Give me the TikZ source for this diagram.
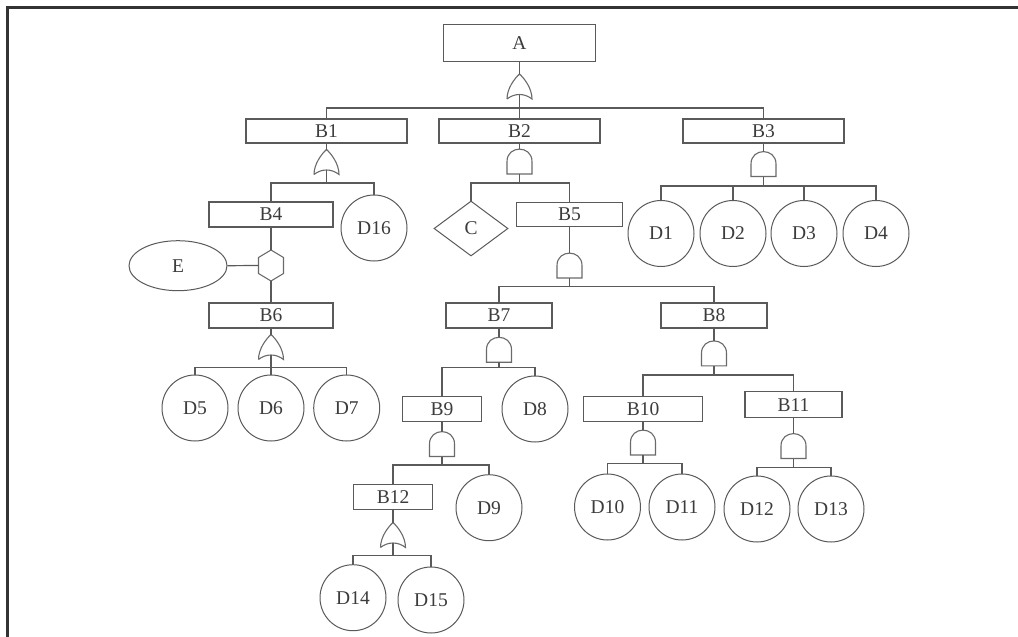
\documentclass[tikz,border=0pt]{standalone}
\usepackage{fontspec}
\setmainfont{Liberation Serif}
\usetikzlibrary{shapes.geometric}
\definecolor{linec}{HTML}{5A5A5A}
\definecolor{gatec}{HTML}{6A6A6A}
\definecolor{textc}{HTML}{3C3C3C}
\definecolor{framec}{HTML}{333333}
\tikzset{
  every node/.style={text=textc,font=\fontsize{19.5}{20}\selectfont},
  conn/.style={draw=linec,line width=1.2pt},
  gateline/.style={draw=gatec,line width=1.1pt},
  evbox/.style={draw=linec,line width=1.2pt,rectangle,inner sep=0pt,minimum height=25pt},
  basic/.style={draw=linec,line width=1.0pt,circle,inner sep=0pt,minimum size=66pt},
  undev/.style={draw=linec,line width=1.0pt,diamond,inner sep=0pt,minimum width=74pt,minimum height=55pt},
  cond/.style={draw=linec,line width=1.0pt,ellipse,inner sep=0pt,minimum width=98pt,minimum height=50pt},
  orgate/.pic={
    \draw[gateline] (-12.5,12.5) .. controls (-12.5,2) and (-5,-8) .. (0,-12.5)
      .. controls (5,-8) and (12.5,2) .. (12.5,12.5)
      .. controls (5,6.5) and (-5,6.5) .. (-12.5,12.5);
    \coordinate (-in) at (0,-12.5);
    \coordinate (-out) at (0,8);
  },
  andgate/.pic={
    \draw[gateline] (-12.5,12.5) -- (-12.5,0) .. controls (-12.5,-16.5) and (12.5,-16.5) .. (12.5,0) -- (12.5,12.5) -- cycle;
    \coordinate (-in) at (0,-12.5);
    \coordinate (-out) at (0,12.5);
  },
  hexgate/.pic={
    \draw[gateline] (0,-15.5) -- (12.5,-8) -- (12.5,8) -- (0,15.5) -- (-12.5,8) -- (-12.5,-8) -- cycle;
    \coordinate (-in) at (0,-15.5);
    \coordinate (-out) at (0,15.5);
    \coordinate (-side) at (-12.5,0);
  }
}
\begin{document}
\begin{tikzpicture}[x=1pt,y=-1pt]
\useasboundingbox (0,0) rectangle (1018,637);
\fill[white] (0,0) rectangle (1018,637);
\draw[framec,line width=3pt] (7.5,637) -- (7.5,7.5) -- (1018,7.5);

% events
\node[evbox,minimum width=152pt,minimum height=37pt] (A) at (519.5,42.7) {A};
\node[evbox,minimum width=161pt,minimum height=24pt] (B1) at (326.5,131) {B1};
\node[evbox,minimum width=161pt,minimum height=24pt] (B2) at (519.5,131) {B2};
\node[evbox,minimum width=161pt,minimum height=24pt] (B3) at (763.5,131) {B3};
\node[evbox,minimum width=124pt] (B4) at (271,214.5) {B4};
\node[basic] (D16) at (374,228) {D16};
\node[undev] (C) at (471,228.5) {C};
\node[evbox,minimum width=106pt,minimum height=24.5pt] (B5) at (569.5,214.5) {B5};
\node[basic] (D1) at (661,233.5) {D1};
\node[basic] (D2) at (733,233.5) {D2};
\node[basic] (D3) at (804,233.5) {D3};
\node[basic] (D4) at (876,233.5) {D4};
\node[cond] (E) at (178,265.7) {E};
\node[evbox,minimum width=124pt] (B6) at (271,315.5) {B6};
\node[basic] (D5) at (195,408) {D5};
\node[basic] (D6) at (271,408) {D6};
\node[basic] (D7) at (346.7,408) {D7};
\node[evbox,minimum width=106pt] (B7) at (499,315.5) {B7};
\node[evbox,minimum width=106pt] (B8) at (714,315.5) {B8};
\node[evbox,minimum width=79pt,minimum height=24.5pt] (B9) at (442,409) {B9};
\node[basic] (D8) at (535,409) {D8};
\node[evbox,minimum width=119.5pt,minimum height=24.5pt] (B10) at (643,409) {B10};
\node[evbox,minimum width=97pt,minimum height=26pt] (B11) at (793.5,404.7) {B11};
\node[evbox,minimum width=79.5pt] (B12) at (393,497) {B12};
\node[basic] (D9) at (489,507.7) {D9};
\node[basic] (D10) at (607.5,507) {D10};
\node[basic] (D11) at (682,507) {D11};
\node[basic] (D12) at (757,509) {D12};
\node[basic] (D13) at (831,509) {D13};
\node[basic] (D14) at (353,597.7) {D14};
\node[basic] (D15) at (431,600) {D15};

% gates
\pic (gA) at (519.5,86.5) {orgate};
\pic (g1) at (326.5,162) {orgate};
\pic (g2) at (519.5,161.5) {andgate};
\pic (g3) at (763.5,164) {andgate};
\pic (hx) at (271,265.5) {hexgate};
\pic (g6) at (271,347) {orgate};
\pic (g5) at (569.5,265.5) {andgate};
\pic (g7) at (499,349.7) {andgate};
\pic (g8) at (714,353.3) {andgate};
\pic (g9) at (442,444) {andgate};
\pic (g10) at (643,442.5) {andgate};
\pic (g11) at (793.5,446) {andgate};
\pic (g12) at (393,535) {orgate};

% bus points
\coordinate (bA) at (519.5,108);
\coordinate (b1) at (326.5,183);
\coordinate (b2) at (519.5,183);
\coordinate (b3) at (763.5,186);
\coordinate (b6) at (271,367.7);
\coordinate (b5) at (569.5,286.7);
\coordinate (b7) at (499,367.3);
\coordinate (b8) at (714,375);
\coordinate (b9) at (442,465);
\coordinate (b10) at (643,463.3);
\coordinate (b11) at (793.5,467.3);
\coordinate (b12) at (393,555.7);

% connectors
\draw[conn] (A.south) -- (gA-in);
\draw[conn] (gA-out) -- (bA);
\draw[conn] (B1.north) |- (bA) -| (B3.north);
\draw[conn] (bA) -- (B2.north);

\draw[conn] (B1.south) -- (g1-in);
\draw[conn] (g1-out) -- (b1);
\draw[conn] (B4.north) |- (b1) -| (D16.north);

\draw[conn] (B2.south) -- (g2-in);
\draw[conn] (g2-out) -- (b2);
\draw[conn] (C.north) |- (b2) -| (B5.north);

\draw[conn] (B3.south) -- (g3-in);
\draw[conn] (g3-out) -- (b3);
\draw[conn] (D1.north) |- (b3) -| (D4.north);
\draw[conn] (b3 -| D2.north) -- (D2.north);
\draw[conn] (b3 -| D3.north) -- (D3.north);

\draw[conn] (B4.south) -- (hx-in);
\draw[conn] (hx-out) -- (B6.north);
\draw[conn] (E.east) -- (hx-side);

\draw[conn] (B6.south) -- (g6-in);
\draw[conn] (g6-out) -- (b6);
\draw[conn] (D5.north) |- (b6) -| (D7.north);
\draw[conn] (b6) -- (D6.north);

\draw[conn] (B5.south) -- (g5-in);
\draw[conn] (g5-out) -- (b5);
\draw[conn] (B7.north) |- (b5) -| (B8.north);

\draw[conn] (B7.south) -- (g7-in);
\draw[conn] (g7-out) -- (b7);
\draw[conn] (B9.north) |- (b7) -| (D8.north);

\draw[conn] (B8.south) -- (g8-in);
\draw[conn] (g8-out) -- (b8);
\draw[conn] (B10.north) |- (b8) -| (B11.north);

\draw[conn] (B9.south) -- (g9-in);
\draw[conn] (g9-out) -- (b9);
\draw[conn] (B12.north) |- (b9) -| (D9.north);

\draw[conn] (B10.south) -- (g10-in);
\draw[conn] (g10-out) -- (b10);
\draw[conn] (D10.north) |- (b10) -| (D11.north);

\draw[conn] (B11.south) -- (g11-in);
\draw[conn] (g11-out) -- (b11);
\draw[conn] (D12.north) |- (b11) -| (D13.north);

\draw[conn] (B12.south) -- (g12-in);
\draw[conn] (g12-out) -- (b12);
\draw[conn] (D14.north) |- (b12) -| (D15.north);
\end{tikzpicture}
\end{document}
